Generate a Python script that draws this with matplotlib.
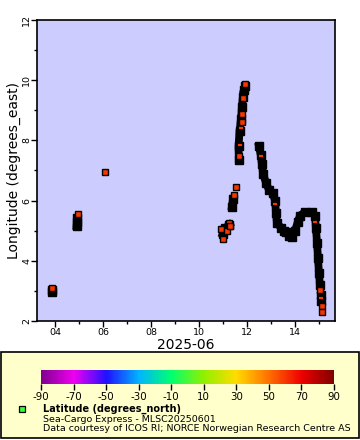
import matplotlib
matplotlib.use("Agg")
import matplotlib.pyplot as plt
import matplotlib.colors as mcolors
from matplotlib.patches import Rectangle
from matplotlib.colorbar import ColorbarBase

plt.rcParams['font.family'] = ['DejaVu Sans']

# ---------------- data (day of June 2025, longitude) ----------------
# dense track segments (drawn as overlapping black markers)
trackA_t = [3.86, 3.86]
trackA_lon = [2.98, 3.02]
trackB_t = [4.90, 4.92, 4.93]
trackB_lon = [5.15, 5.30, 5.42]
trackC_t = [10.99, 11.08, 11.27]
trackC_lon = [4.89, 5.08, 5.20]
trackD_t = [11.375, 11.42]
trackD_lon = [5.80, 6.05]
trackE1_t = [11.66, 11.65, 11.69, 11.75, 11.79, 11.83]
trackE1_lon = [7.35, 7.80, 8.30, 8.70, 9.10, 9.45]
trackE2_t = [11.875, 11.92]
trackE2_lon = [9.68, 9.80]
trackF_t = [12.50, 12.58, 12.625, 12.67, 12.79, 12.92, 13.08, 13.17, 13.21,
            13.25, 13.42, 13.55, 13.62, 13.75, 13.875, 14.00, 14.125, 14.21, 14.42,
            14.71, 14.83, 14.875, 14.92, 14.96, 15.00, 15.04]
trackF_lon = [7.80, 7.50, 7.20, 6.90, 6.60, 6.35, 6.25, 6.00, 5.60,
              5.25, 5.10, 5.00, 4.95, 4.82, 4.80, 5.00, 5.30, 5.50, 5.62,
              5.62, 5.50, 5.10, 4.60, 4.10, 3.60, 3.20]
trackG_t = [15.08, 15.09]
trackG_lon = [2.85, 2.65]

# isolated visible markers (latitude ~60 N -> red-orange)
pts_t = [3.86, 4.94, 6.08, 10.92, 10.99, 11.15, 11.25, 11.29, 11.46, 11.54,
         11.67, 11.79, 11.79, 11.83, 11.92, 15.04, 15.125, 15.125]
pts_lon = [3.10, 5.55, 6.95, 5.05, 4.72, 5.00, 5.27, 5.16, 6.19, 6.45,
           7.48, 8.62, 8.88, 9.42, 9.88, 3.03, 2.50, 2.30]
# partially covered markers (only a sliver of fill visible)
dash_t = [11.71, 11.75, 12.58, 13.17, 14.83, 15.08]
dash_lon = [7.86, 8.41, 7.48, 5.90, 5.30, 2.76]

lat_value = 60
cbar_ticks = [-90, -70, -50, -30, -10, 10, 30, 50, 70, 90]
x_ticks = [4, 6, 8, 10, 12, 14]
x_ticklabels = ['04', '06', '08', '10', '12', '14']
y_ticks = [2, 4, 6, 8, 10, 12]

# ---------------- figure ----------------
fig = plt.figure(figsize=(3.6, 4.4), dpi=100)
fig.patch.set_facecolor('white')
W, H = 360, 440


def fx(px):
    return px / W


def fy(py):
    return 1 - py / H


# legend panel background (drawn first, behind everything)
fig.add_artist(Rectangle((fx(1), fy(438)), fx(359) - fx(1), fy(352) - fy(438),
                         transform=fig.transFigure, facecolor='#ffffcc',
                         edgecolor='black', lw=1.2, zorder=-5))

ax = fig.add_axes([fx(37), fy(321), fx(335) - fx(37), fy(20) - fy(321)])
ax.set_facecolor('#ccccff')

cmap = mcolors.LinearSegmentedColormap.from_list(
    'erddap_rainbow',
    [(0.0, '#800090'), (1 / 9, '#f000f0'), (2 / 9, '#2010ff'), (3 / 9, '#00b4ff'),
     (4 / 9, '#00ff70'), (5 / 9, '#90f000'), (6 / 9, '#ffdc00'), (7 / 9, '#ff7000'),
     (8 / 9, '#f00000'), (1.0, '#800000')])
norm = mcolors.Normalize(-90, 90)
fill = cmap(norm(lat_value))

ms = 5.0
for t, lon in [(trackA_t, trackA_lon), (trackB_t, trackB_lon), (trackC_t, trackC_lon),
               (trackD_t, trackD_lon), (trackE1_t, trackE1_lon), (trackE2_t, trackE2_lon),
               (trackF_t, trackF_lon), (trackG_t, trackG_lon)]:
    ax.plot(t, lon, color='black', lw=5.6, solid_joinstyle='miter',
            solid_capstyle='projecting', zorder=2)
    ax.plot(t, lon, ls='none', marker='s', ms=ms + 0.5, mfc='black', mec='black', zorder=2)

ax.plot(pts_t, pts_lon, ls='none', marker='s', ms=ms, mfc=fill, mec='black',
        mew=1.0, zorder=3)
ax.plot(dash_t, dash_lon, ls='none', marker='_', ms=3.2, mew=1.6, color=fill, zorder=3)

ax.set_xlim(3.25, 15.67)
ax.set_ylim(2, 12)
ax.set_xticks(x_ticks)
ax.set_xticklabels(x_ticklabels, fontsize=6.8)
ax.set_xticks([5, 7, 9, 11, 13, 15], minor=True)
ax.set_yticks(y_ticks)
ax.set_yticklabels([str(v) for v in y_ticks], fontsize=6.8, rotation=90, va='center')
ax.set_yticks([3, 5, 7, 9, 11], minor=True)
ax.tick_params(which='major', length=4, width=1, direction='out', pad=1)
ax.tick_params(axis='y', which='major', pad=0.3)
ax.tick_params(which='minor', length=2.2, width=1, direction='out')
for s in ax.spines.values():
    s.set_linewidth(1.2)
ax.set_xlabel('2025-06', fontsize=10, labelpad=1)
ax.set_ylabel('Longitude (degrees_east)', fontsize=10, labelpad=1)

# ---------------- colour bar ----------------
cax = fig.add_axes([fx(41), fy(384), fx(334) - fx(41), fy(370) - fy(384)])
cb = ColorbarBase(cax, cmap=cmap, norm=norm, orientation='horizontal', ticks=cbar_ticks)
cb.outline.set_visible(False)
cax.set_xticklabels([str(v) for v in cbar_ticks], fontsize=7.4)
cax.tick_params(length=4, width=1, pad=1.5)

fig.add_artist(Rectangle((fx(19), fy(412)), fx(6), 6 / H, transform=fig.transFigure,
                         facecolor='#33ff33', edgecolor='black', lw=0.9))
fig.text(fx(43), fy(409), 'Latitude (degrees_north)', fontsize=7.0, fontweight='bold',
         va='center', ha='left')
fig.text(fx(43), fy(419), 'Sea-Cargo Express - MLSC20250601', fontsize=6.8,
         va='center', ha='left')
fig.text(fx(43), fy(428.5), 'Data courtesy of ICOS RI; NORCE Norwegian Research Centre AS',
         fontsize=6.8, va='center', ha='left')

fig.savefig('out.png', dpi=100)
